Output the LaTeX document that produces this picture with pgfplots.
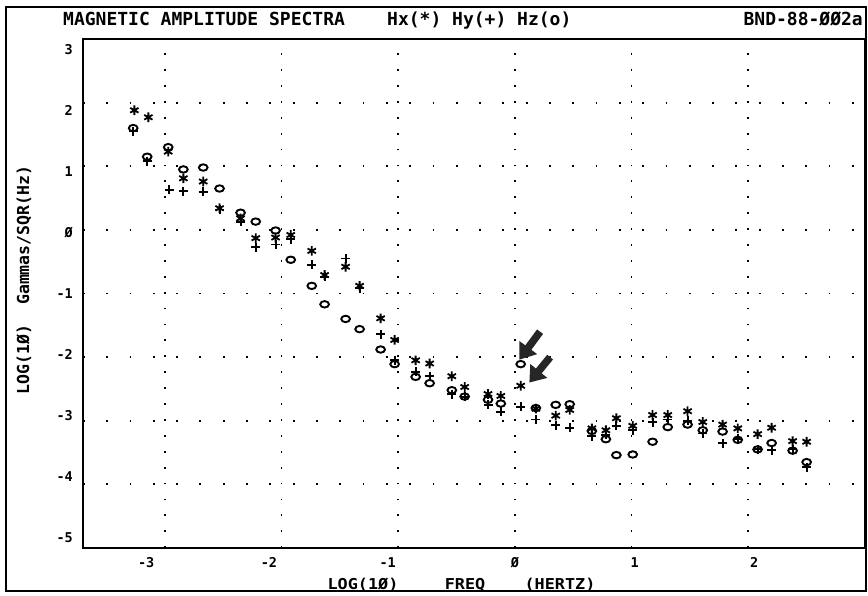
\documentclass[border=0pt]{standalone}
\usepackage{pgfplots}
\pgfplotsset{compat=1.18}
\usepackage{fontspec}
\setmainfont{DejaVu Sans Mono}
\newfontfamily\labfont[FakeStretch=1.12]{DejaVu Sans Mono}
\newfontfamily\ylabfont[FakeStretch=1.0]{DejaVu Sans Mono}
\usetikzlibrary{arrows.meta}
\newcommand\xl[2]{\makebox[0pt]{\hspace*{#1}\hspace*{#1}#2}}
\newcommand\yl[2]{\smash{\raisebox{#1}{#2}}}

\pgfplotstableread{
x y
-3.26 1.88
-3.14 1.77
-2.97 1.23
-2.84 0.81
-2.67 0.76
-2.53 0.34
-2.35 0.18
-2.22 -0.13
-2.05 -0.12
-1.92 -0.08
-1.74 -0.33
-1.63 -0.71
-1.45 -0.58
-1.33 -0.88
-1.15 -1.39
-1.03 -1.73
-0.85 -2.05
-0.73 -2.10
-0.54 -2.30
-0.43 -2.47
-0.23 -2.58
-0.12 -2.61
0.05 -2.45
0.18 -2.81
0.35 -2.92
0.47 -2.83
0.66 -3.12
0.78 -3.15
0.87 -2.96
1.01 -3.08
1.18 -2.91
1.31 -2.91
1.48 -2.85
1.61 -3.02
1.78 -3.06
1.91 -3.12
2.08 -3.21
2.20 -3.11
2.38 -3.32
2.50 -3.33
}\hx

\pgfplotstableread{
x y
-3.27 1.55
-3.15 1.08
-2.96 0.63
-2.84 0.61
-2.67 0.60
-2.53 0.32
-2.35 0.13
-2.22 -0.27
-2.05 -0.23
-1.92 -0.15
-1.74 -0.55
-1.63 -0.74
-1.45 -0.45
-1.33 -0.92
-1.15 -1.64
-1.03 -2.05
-0.85 -2.23
-0.73 -2.30
-0.54 -2.58
-0.43 -2.62
-0.23 -2.75
-0.12 -2.86
0.05 -2.78
0.18 -2.98
0.35 -3.07
0.47 -3.11
0.66 -3.24
0.78 -3.22
0.87 -3.08
1.01 -3.15
1.18 -3.02
1.31 -2.98
1.48 -3.00
1.61 -3.20
1.78 -3.35
1.91 -3.28
2.08 -3.45
2.20 -3.46
2.38 -3.45
2.50 -3.73
}\hy

\pgfplotstableread{
x y
-3.27 1.60
-3.15 1.15
-2.97 1.30
-2.84 0.95
-2.67 0.98
-2.53 0.65
-2.35 0.27
-2.22 0.13
-2.05 -0.01
-1.92 -0.47
-1.74 -0.88
-1.63 -1.17
-1.45 -1.40
-1.33 -1.56
-1.15 -1.88
-1.03 -2.11
-0.85 -2.31
-0.73 -2.41
-0.54 -2.52
-0.43 -2.62
-0.23 -2.67
-0.12 -2.73
0.05 -2.11
0.18 -2.80
0.35 -2.75
0.47 -2.74
0.66 -3.16
0.78 -3.29
0.87 -3.54
1.01 -3.53
1.18 -3.33
1.31 -3.10
1.48 -3.06
1.61 -3.15
1.78 -3.17
1.91 -3.30
2.08 -3.45
2.20 -3.35
2.38 -3.47
2.50 -3.65
}\hz

\begin{document}
\begin{tikzpicture}[x=1pt,y=1pt,font=\fontsize{18pt}{21pt}\selectfont\bfseries]
\useasboundingbox (-83,-47) rectangle (785,548);
\begin{axis}[
  at={(0,0)}, anchor=south west, scale only axis,
  width=782pt, height=509pt,
  xmin=-3.7, xmax=3, ymin=-5, ymax=3,
  xtick={-3,-2,-1,0,1,2},
  xticklabels={\xl{-18.5pt}{-3},\xl{-12.5pt}{-2},\xl{-10.5pt}{-1},\xl{0pt}{Ø},\xl{3pt}{1},\xl{6pt}{2}},
  ytick={-5,-4,-3,-2,-1,0,1,2,3},
  yticklabels={\yl{5.9pt}{-5},\yl{3.2pt}{-4},\yl{0.5pt}{-3},\yl{-2.2pt}{-2},\yl{-4.9pt}{-1},\yl{-7.6pt}{Ø},\yl{-10.3pt}{1},\yl{-13.0pt}{2},\yl{-15.7pt}{3}},
  major tick length=0pt,
  xticklabel style={anchor=north, inner sep=0pt, yshift=-9pt, font=\fontsize{13.5pt}{16pt}\selectfont\bfseries},
  yticklabel style={anchor=east, inner sep=0pt, xshift=-10pt, font=\fontsize{13.5pt}{16pt}\selectfont\bfseries},
  axis line style={line width=1.5pt},
  grid=major,
  x grid style={black, line width=1.8pt, dash pattern=on 1.8pt off 14.1pt},
  y grid style={black, line width=1.8pt, dash pattern=on 1.8pt off 21.5pt},
  clip=false,
]
\addplot[only marks, mark=asterisk, mark size=4.8pt, mark options={line width=1.8pt, black}] table {\hx};
\addplot[only marks, mark=+, mark size=4.5pt, mark options={line width=1.9pt, black}] table {\hy};
\addplot[only marks, mark=o, mark size=3.8pt, mark options={line width=1.9pt, black, xscale=1.15, yscale=0.85}] table {\hz};
\draw[line width=7.5pt, black!85, -{Triangle[length=15pt,width=21pt]}] (axis cs:0.216,-1.60) -- (axis cs:0.039,-2.04);
\draw[line width=7.5pt, black!85, -{Triangle[length=15pt,width=21pt]}] (axis cs:0.302,-2.00) -- (axis cs:0.124,-2.40);
\end{axis}
\draw[line width=1.5pt] (-77,-43) rectangle (783,541);
\node[anchor=base west, inner sep=0pt] at (-20,522) {MAGNETIC AMPLITUDE SPECTRA};
\node[anchor=base west, inner sep=0pt] at (304,522) {Hx(*) Hy(+) Hz(o)};
\node[anchor=base east, inner sep=0pt] at (780,522) {BND-88-ØØ2a};
\node[anchor=base, inner sep=0pt] at (280,-41) {\fontsize{15pt}{18pt}\labfont\bfseries LOG(1Ø)};
\node[anchor=base, inner sep=0pt] at (382,-41) {\fontsize{15pt}{18pt}\labfont\bfseries FREQ};
\node[anchor=base, inner sep=0pt] at (477,-41) {\fontsize{15pt}{18pt}\labfont\bfseries (HERTZ)};
\node[rotate=90, inner sep=0pt] at (-59,268) {\fontsize{16.5pt}{18pt}\ylabfont\bfseries LOG(1Ø)\ \ Gammas/SQR(Hz)};
\end{tikzpicture}
\end{document}
